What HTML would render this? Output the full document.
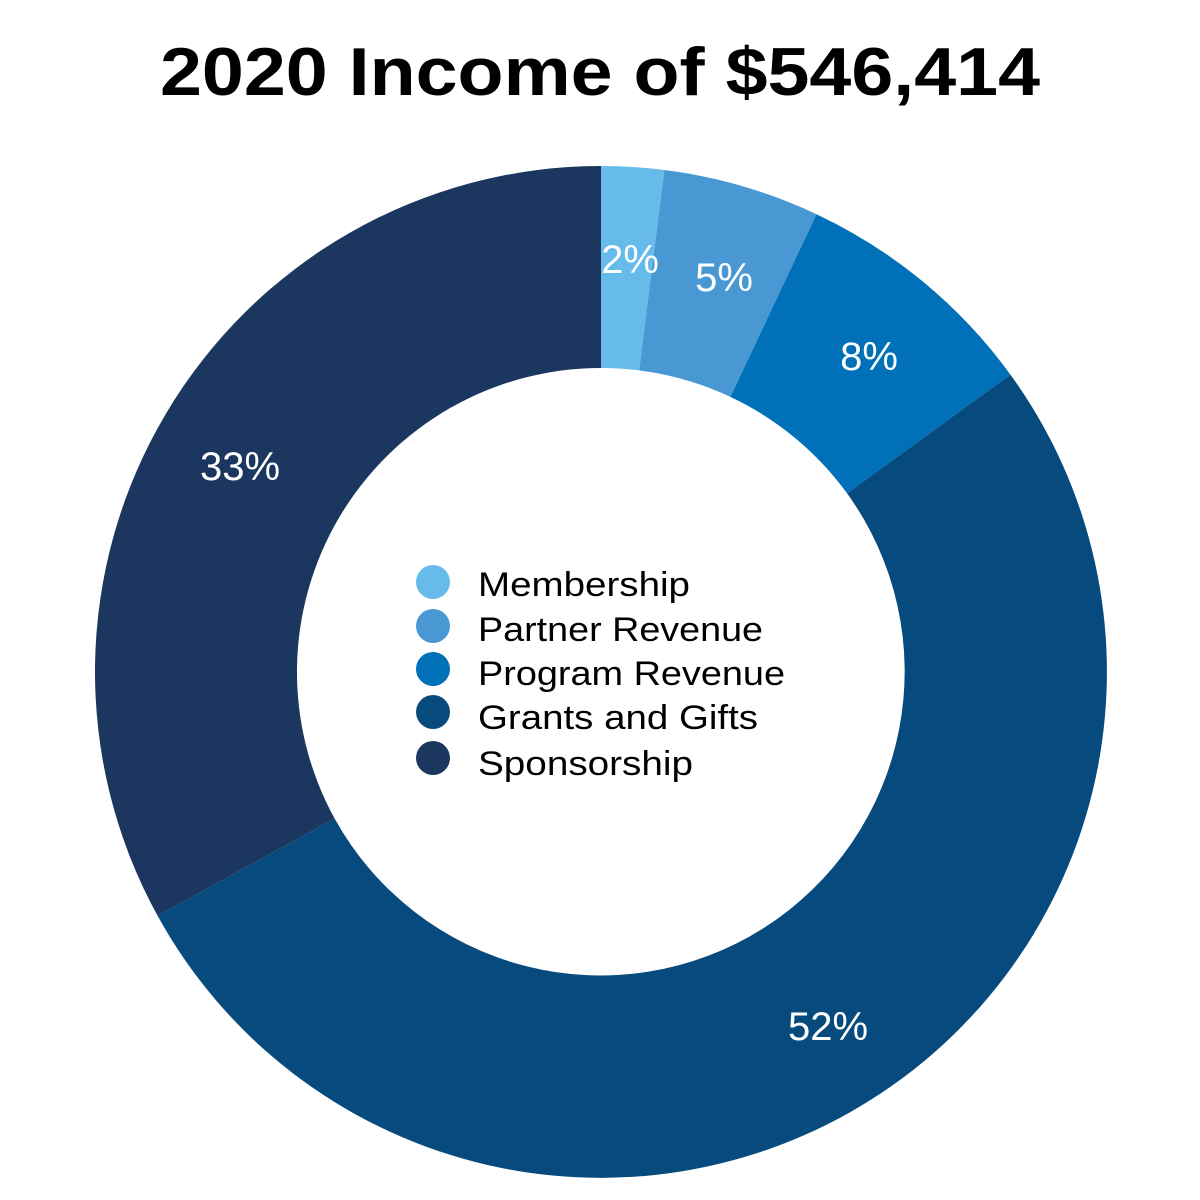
<!DOCTYPE html>
<html><head><meta charset="utf-8"><style>html,body{margin:0;padding:0;background:#fff}svg{display:block}</style></head>
<body>
<svg width="1200" height="1200" viewBox="0 0 1200 1200" xmlns="http://www.w3.org/2000/svg">
<text x="600" y="95" text-anchor="middle" font-family="Liberation Sans, sans-serif" font-weight="bold" font-size="68" textLength="880" lengthAdjust="spacingAndGlyphs" fill="#000">2020 Income of $546,414</text>
<path d="M601,166 A506,506 0 0 1 664.4,170 L639.1,370.4 A304,304 0 0 0 601,368 Z" fill="#66bbea"/>
<path d="M664.4,170 A506,506 0 0 1 816.5,214.2 L730.4,396.9 A304,304 0 0 0 639.1,370.4 Z" fill="#4a98d3"/>
<path d="M816.5,214.2 A506,506 0 0 1 1010.4,374.6 L847,493.3 A304,304 0 0 0 730.4,396.9 Z" fill="#0071b8"/>
<path d="M1010.4,374.6 A506,506 0 1 1 157.6,915.8 L334.6,818.5 A304,304 0 1 0 847,493.3 Z" fill="#074b7e"/>
<path d="M157.6,915.8 A506,506 0 0 1 601,166 L601,368 A304,304 0 0 0 334.6,818.5 Z" fill="#1c375f"/>
<g font-family="Liberation Sans, sans-serif" font-size="40" fill="#fff" text-anchor="middle">
<text x="630" y="273">2%</text>
<text x="724" y="291">5%</text>
<text x="869" y="370">8%</text>
<text x="240" y="480">33%</text>
<text x="828" y="1040">52%</text>
</g>
<g>
<circle cx="433" cy="582" r="17" fill="#66bbea"/>
<circle cx="433" cy="626" r="17" fill="#4a98d3"/>
<circle cx="433" cy="669" r="17" fill="#0071b8"/>
<circle cx="433" cy="712" r="17" fill="#074b7e"/>
<circle cx="433" cy="758" r="17" fill="#1c375f"/>
</g>
<g font-family="Liberation Sans, sans-serif" font-size="34" fill="#000">
<text x="478" y="596" textLength="212" lengthAdjust="spacingAndGlyphs">Membership</text>
<text x="478" y="641" textLength="285" lengthAdjust="spacingAndGlyphs">Partner Revenue</text>
<text x="478" y="685" textLength="307" lengthAdjust="spacingAndGlyphs">Program Revenue</text>
<text x="478" y="729" textLength="280" lengthAdjust="spacingAndGlyphs">Grants and Gifts</text>
<text x="478" y="775" textLength="215" lengthAdjust="spacingAndGlyphs">Sponsorship</text>
</g>
</svg>
</body></html>
